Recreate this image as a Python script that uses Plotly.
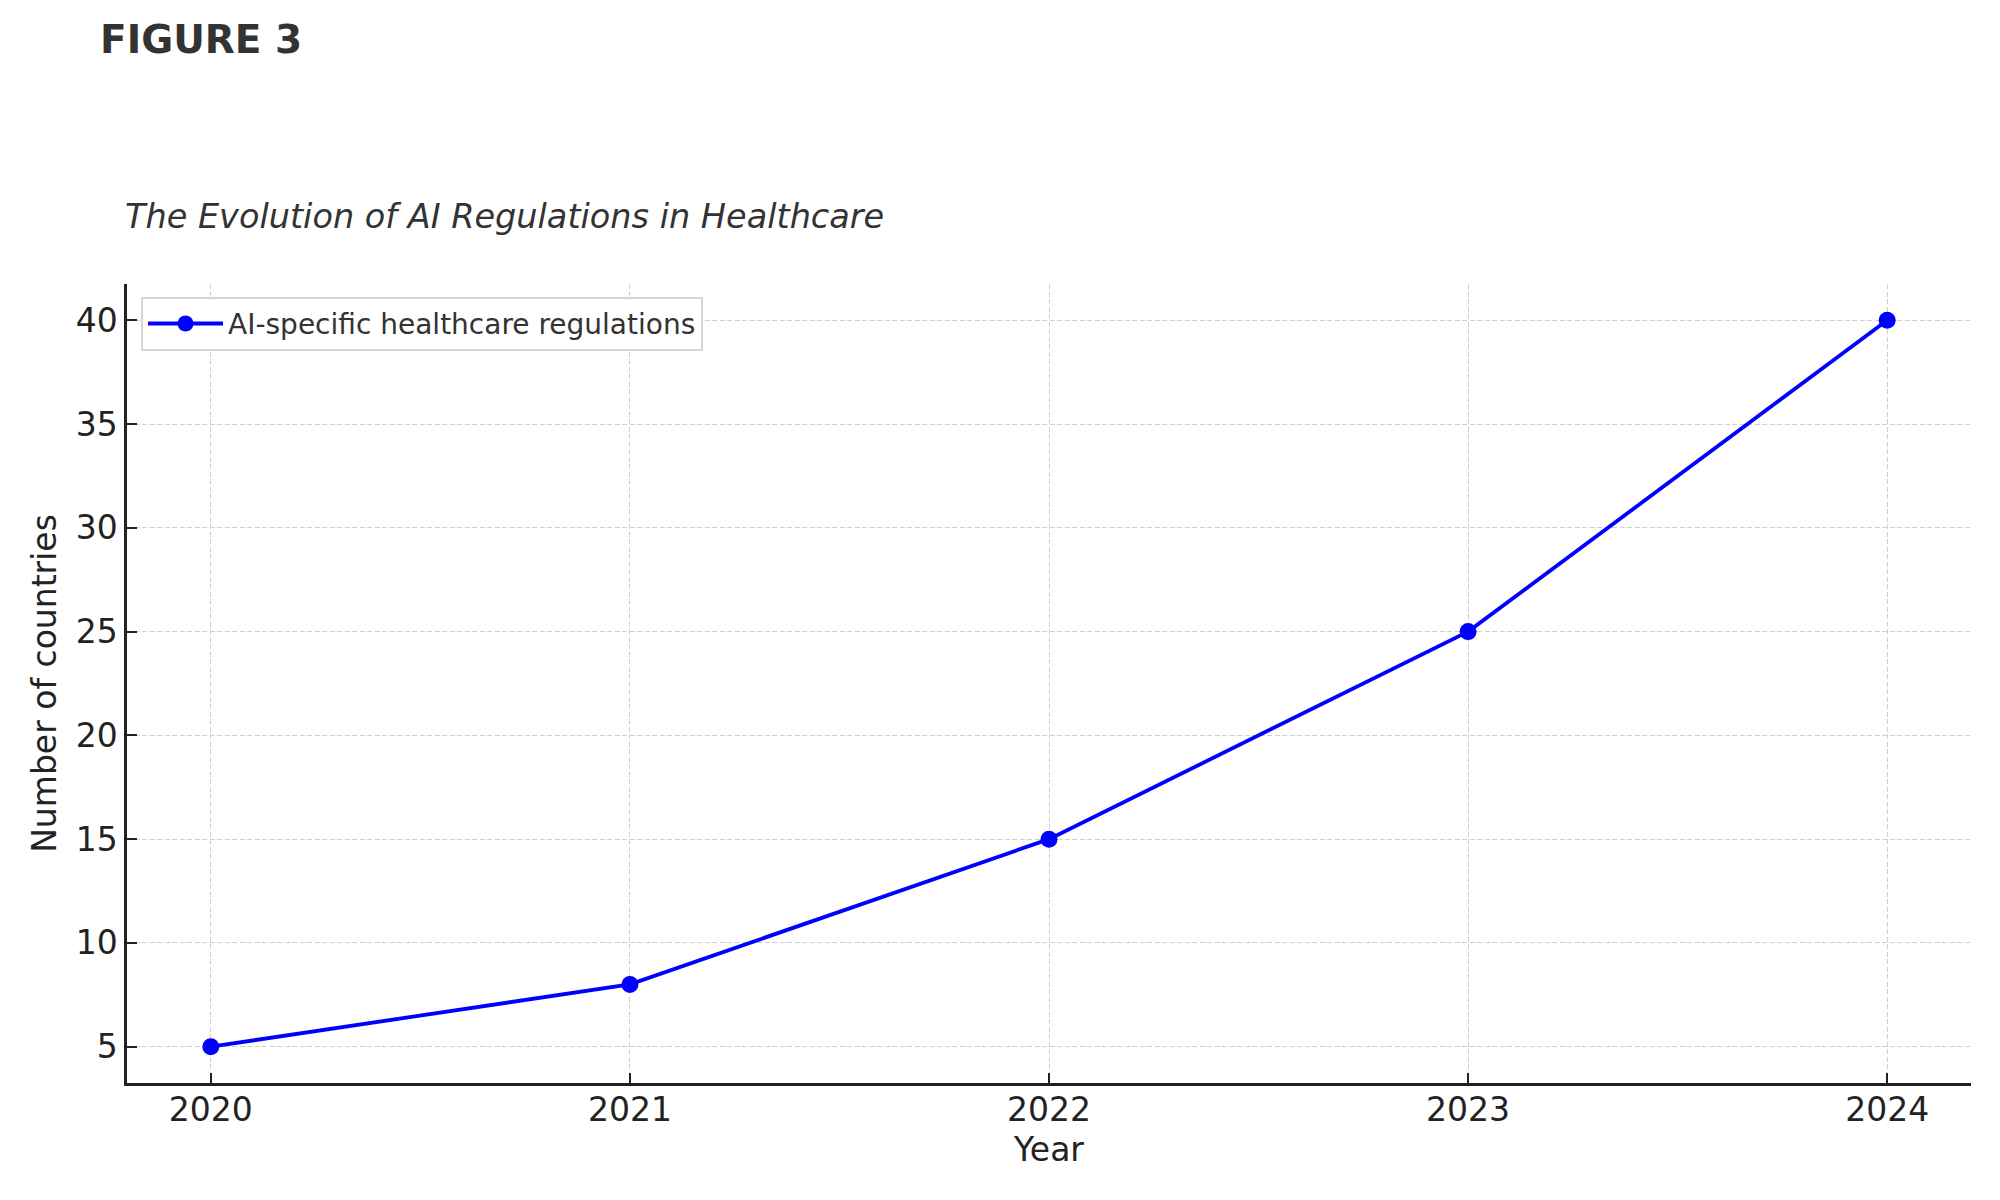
import plotly.graph_objects as go

years = [2020, 2021, 2022, 2023, 2024]
countries = [5, 8, 15, 25, 40]
series_name = "AI-specific healthcare regulations"
y_ticks = [5, 10, 15, 20, 25, 30, 35, 40]

FONT = "DejaVu Sans"

fig = go.Figure()
fig.add_trace(go.Scatter(
    x=years, y=countries, mode="lines+markers", name=series_name,
    line=dict(color="#0000ff", width=3.8),
    marker=dict(color="#0000ff", size=17, symbol="circle"),
))

fig.update_layout(
    width=2000, height=1200,
    margin=dict(l=119, r=37, t=276, b=125),
    paper_bgcolor="white", plot_bgcolor="white",
    font=dict(family=FONT, color="#222222"),
    showlegend=True,
    legend=dict(
        x=0.0076, y=0.984, xanchor="left", yanchor="top",
        bgcolor="white", bordercolor="#d5d5d5", borderwidth=2,
        itemwidth=75,
        font=dict(family=FONT, size=28, color="#333333"),
    ),
    annotations=[
        dict(text="<b>FIGURE 3</b>", xref="paper", yref="paper",
             x=-0.0155, y=1.306, xanchor="left", yanchor="middle",
             showarrow=False, font=dict(family=FONT, size=39, color="#333333")),
        dict(text="<i>The Evolution of AI Regulations in Healthcare</i>",
             xref="paper", yref="paper", x=-0.002, y=1.084,
             xanchor="left", yanchor="middle", showarrow=False,
             font=dict(family=FONT, size=33.5, color="#333333")),
    ],
)

fig.update_xaxes(
    range=[2019.8, 2024.2], tickmode="array", tickvals=years,
    ticktext=[str(y) for y in years],
    showline=True, linecolor="#222222", linewidth=2.5, mirror=False,
    ticks="inside", ticklen=10, tickwidth=2, tickcolor="#222222",
    ticklabelstandoff=-4,
    tickfont=dict(family=FONT, size=33, color="#222222"),
    showgrid=True, gridcolor="#d0d0d0", gridwidth=1.2, griddash="5px,2.5px",
    zeroline=False,
    title=dict(text="Year", font=dict(family=FONT, size=33, color="#222222"), standoff=10),
)
fig.update_yaxes(
    range=[3.25, 41.75], tickmode="array", tickvals=y_ticks,
    showline=True, linecolor="#222222", linewidth=2.5, mirror=False,
    ticks="inside", ticklen=10, tickwidth=2, tickcolor="#222222",
    tickfont=dict(family=FONT, size=33, color="#222222"),
    showgrid=True, gridcolor="#d0d0d0", gridwidth=1.2, griddash="5px,2.5px",
    zeroline=False,
    title=dict(text="Number of countries", font=dict(family=FONT, size=33, color="#222222"), standoff=10),
)

fig.write_html("out.html")
